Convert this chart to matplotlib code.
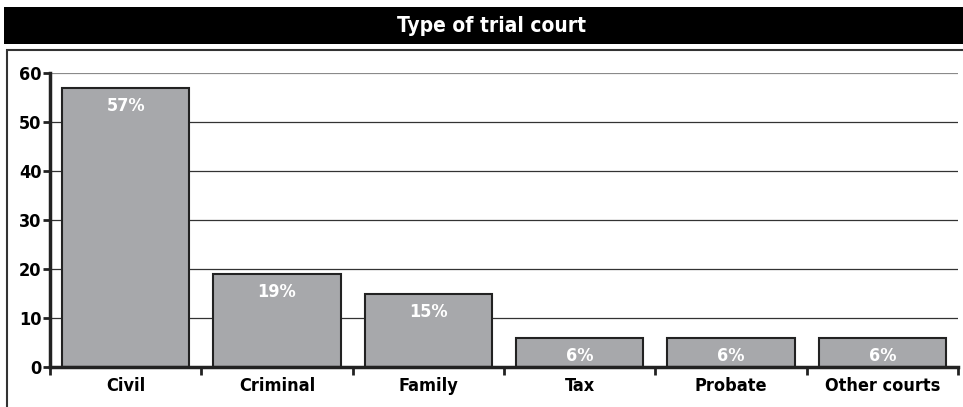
import matplotlib
matplotlib.use("Agg")
import matplotlib.pyplot as plt
from matplotlib.patches import Rectangle
import numpy as np

categories = ["Civil", "Criminal", "Family", "Tax", "Probate", "Other courts"]
values = [57, 19, 15, 6, 6, 6]
labels = ["57%", "19%", "15%", "6%", "6%", "6%"]
yticks = [0, 10, 20, 30, 40, 50, 60]
title = "Type of trial court"

W, H = 963, 407
fig = plt.figure(figsize=(W / 100, H / 100), dpi=100)

font = dict(family="DejaVu Sans", stretch="condensed", weight="bold")

# title bar
fig.patches.append(Rectangle((4 / W, 1 - 44 / H), 1 - 4 / W, 37 / H, transform=fig.transFigure,
                             facecolor="black", edgecolor="none", zorder=0))
fig.text(491 / W, 1 - 25.5 / H, title, color="white", ha="center", va="center",
         fontsize=15, **font)
# outer border
fig.patches.append(Rectangle((7 / W, -0.05), 1.0, 1 - 50 / H + 0.05, transform=fig.transFigure,
                             facecolor="none", edgecolor="#333333", linewidth=1.5, zorder=0))

left, right = 50 / W, 958 / W
bottom, top = (H - 367) / H, (H - 73) / H
ax = fig.add_axes([left, bottom, right - left, top - bottom])
ax.set_facecolor("none")

x = np.arange(len(categories))
ax.bar(x, values, width=0.84, color="#a7a8ab", edgecolor="#222222", linewidth=1.5, zorder=2)
for xi, v, lab in zip(x, values, labels):
    ax.text(xi, v - 3.7, lab, color="white", ha="center", va="center", fontsize=13, zorder=3,
            **font)

ax.set_xlim(-0.5, len(categories) - 0.5)
ax.set_ylim(0, 60)
ax.set_yticks(yticks)
ax.set_yticklabels([str(t) for t in yticks], **font, fontsize=13)
ax.set_xticks(x)
ax.set_xticklabels(categories, **font, fontsize=13)
ax.set_xticks(np.arange(-0.5, len(categories)), minor=True)
ax.tick_params(axis="x", which="major", length=0, pad=7)
ax.tick_params(axis="x", which="minor", length=6, width=2, direction="out", color="#222222")
ax.tick_params(axis="y", length=5, width=2, direction="out", pad=1, color="#222222")

ax.yaxis.grid(True, color="#333333", linewidth=0.9, zorder=1)
gl = ax.yaxis.get_gridlines()
gl[-1].set_color("#8a8a8a")
gl[-1].set_linewidth(1.6)
ax.set_axisbelow(True)
for s in ["top", "right"]:
    ax.spines[s].set_visible(False)
for s in ["left", "bottom"]:
    ax.spines[s].set_linewidth(2.5)
    ax.spines[s].set_color("#222222")
    ax.spines[s].set_zorder(4)

fig.savefig("out.png", dpi=100)
